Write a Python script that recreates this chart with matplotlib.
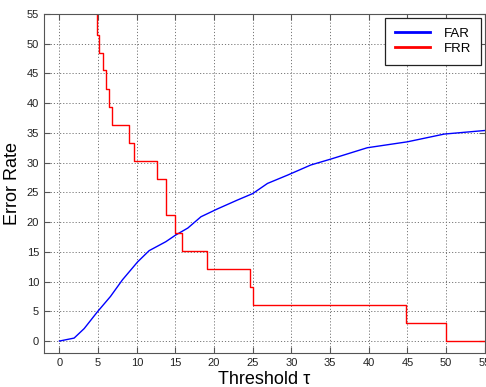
import matplotlib
matplotlib.use('Agg')
from matplotlib import pyplot as plt

# FAR curve, read as threshold / error rate pairs
far_thr = [0, 1.9, 3.2, 4.9, 6.6, 8.15, 10.1, 11.6, 13.75, 15.0, 16.6, 18.3,
           20.4, 23.0, 25.0, 26.9, 29.5, 32.5, 35.1, 39.8, 45.0, 49.75, 55]
far_val = [0, 0.5, 2.1, 4.9, 7.5, 10.3, 13.3, 15.2, 16.7, 17.8, 19.0, 20.9,
           22.2, 23.7, 24.8, 26.5, 27.9, 29.6, 30.6, 32.5, 33.5, 34.8, 35.4]

# FRR staircase: value holds from each threshold to the next
frr_thr = [0, 4.91, 5.17, 5.60, 6.03, 6.42, 6.77, 9.00, 9.58, 12.55, 13.72,
           14.92, 15.9, 19.14, 24.7, 25.0, 44.76, 50.0, 55]
frr_val = [60.6, 51.5, 48.5, 45.5, 42.4, 39.4, 36.4, 33.3, 30.3, 27.3, 21.2,
           18.2, 15.2, 12.1, 9.1, 6.1, 3.0, 0, 0]

plt.rcParams['font.family'] = ['Liberation Sans', 'DejaVu Sans']

fig = plt.figure(figsize=(4.86, 3.87), dpi=100)
ax = fig.add_axes([0.0905, 0.088, 0.907, 0.876])

ax.plot(far_thr, far_val, color='#0000ff', lw=1.0, label='FAR')
ax.step(frr_thr, frr_val, where='post', color='#ff0000', lw=1.0, label='FRR')

ax.set_xlim(-2, 55)
ax.set_ylim(-2, 55)
ax.set_xticks(range(0, 56, 5))
ax.set_yticks(range(0, 56, 5))
ax.grid(True, color='#777777', linestyle=(0, (1.2, 2)), lw=0.7)
ax.tick_params(direction='in', top=True, right=True, labelsize=8,
               length=4, color='#555555', labelcolor='#222222')
for s in ax.spines.values():
    s.set_color('#555555')

ax.set_xlabel('Threshold τ', fontsize=13, labelpad=2)
ax.set_ylabel('Error Rate', fontsize=13, labelpad=4)

leg = ax.legend(loc='upper right', fontsize=9.5, fancybox=False,
                edgecolor='#222222', framealpha=1, handlelength=2.7,
                handletextpad=1.0, borderpad=0.75, borderaxespad=0.3,
                labelspacing=0.2)
leg.get_frame().set_linewidth(0.9)
for ln in leg.get_lines():
    ln.set_linewidth(2)

fig.savefig('out.png', dpi=100)
